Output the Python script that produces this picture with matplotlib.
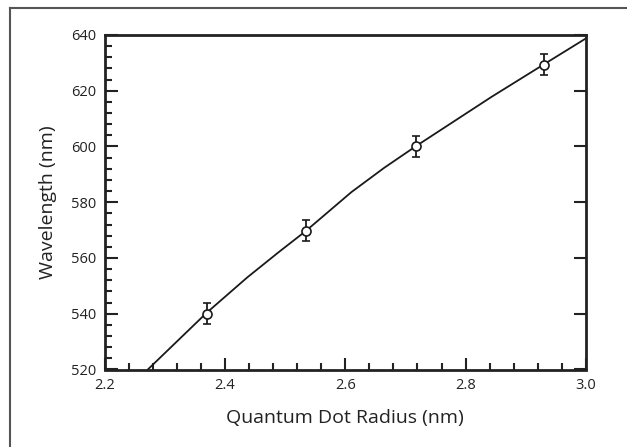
import matplotlib.pyplot as plt
from matplotlib.lines import Line2D
from matplotlib.ticker import MultipleLocator

plt.rcParams['font.family'] = ['Open Sans', 'DejaVu Sans']

# measured points
radius = [2.370, 2.534, 2.718, 2.931]
wavelength = [540.0, 569.8, 600.0, 629.4]
err = [3.8, 3.8, 3.8, 3.8]

# fitted curve
fit_r = [2.272, 2.370, 2.437, 2.490, 2.534, 2.610, 2.665, 2.718, 2.843, 2.931, 3.0]
fit_w = [520.0, 540.4, 553.0, 562.2, 569.6, 583.6, 592.4, 600.2, 617.8, 629.6, 638.8]

fig = plt.figure(figsize=(6.27, 4.47), dpi=100)
ax = fig.add_axes([104.5 / 627, 1 - 369.5 / 447, 481.5 / 627, 334.5 / 447])

ax.plot(fit_r, fit_w, color='#1a1a1a', lw=1.3, zorder=2)
ax.errorbar(radius, wavelength, yerr=err, fmt='o', ms=6.5, mfc='white',
            mec='#1a1a1a', mew=1.2, ecolor='#1a1a1a', elinewidth=1.3,
            capsize=3, capthick=1.3, zorder=3)

ax.set_xlim(2.2, 3.0)
ax.set_ylim(520, 640)
ax.xaxis.set_major_locator(MultipleLocator(0.2))
ax.xaxis.set_minor_locator(MultipleLocator(0.04))
ax.yaxis.set_major_locator(MultipleLocator(20))
ax.yaxis.set_minor_locator(MultipleLocator(4))
ax.xaxis.set_major_formatter(plt.FuncFormatter(lambda v, p: f'{v:.1f}'))

for s in ax.spines.values():
    s.set_linewidth(2)
    s.set_color('#222222')

ax.tick_params(which='both', direction='in', top=False, color='#222222',
               width=1.5, labelsize=10.5, labelcolor='#222222')
ax.tick_params(which='major', length=9, pad=6)
ax.tick_params(which='minor', length=5)
ax.tick_params(axis='y', which='major', right=True)
ax.tick_params(axis='y', which='minor', right=False)

ax.set_xlabel('Quantum Dot Radius (nm)', fontsize=14, color='#222222', labelpad=12)
ax.set_ylabel('Wavelength (nm)', fontsize=14, color='#222222', labelpad=10)

# outer frame (top and left edges visible)
fig.add_artist(Line2D([10 / 627, 10 / 627], [0, 1 - 8 / 447],
                      transform=fig.transFigure, color='#555555', lw=1.5))
fig.add_artist(Line2D([10 / 627, 1], [1 - 8 / 447, 1 - 8 / 447],
                      transform=fig.transFigure, color='#555555', lw=1.5))

fig.savefig('out.png', dpi=100)
